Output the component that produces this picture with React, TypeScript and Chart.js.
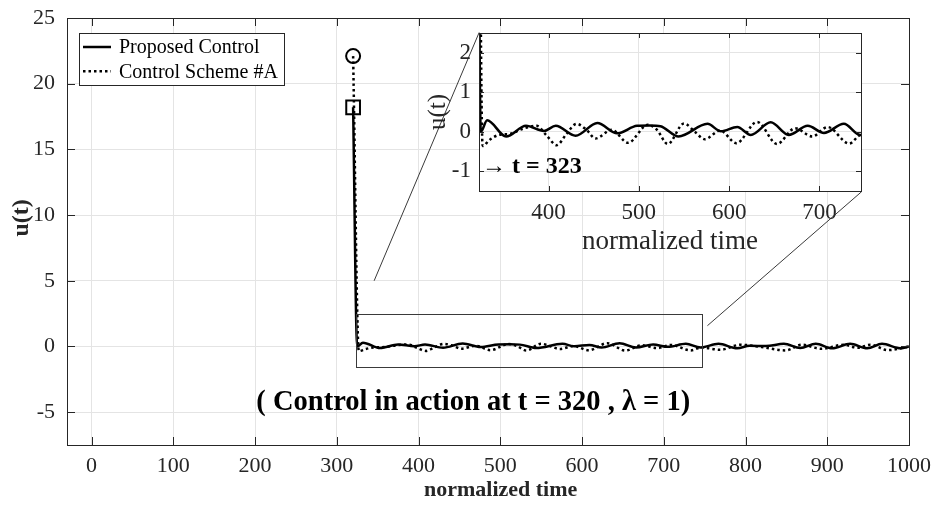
import React, { useEffect, useRef } from 'react';
import { Chart, registerables } from 'chart.js';

Chart.register(...registerables);

// ---------------- data ----------------
const proposedT = [320, 325, 332, 353, 375, 395, 408, 430, 454, 476, 498, 512, 524, 544, 576, 591, 609, 624, 646, 666, 687, 705, 727, 745, 767, 790, 805, 825, 847, 867, 886, 906, 928, 949, 967, 990, 1000];
const proposedU = [18.2, 0.0, 0.29, -0.12, 0.15, 0.02, 0.15, -0.1, 0.22, -0.04, 0.15, 0.16, 0.14, -0.12, 0.2, 0.01, 0.12, -0.08, 0.24, -0.08, 0.15, -0.03, 0.2, -0.08, 0.2, -0.14, 0.05, 0.03, 0.2, -0.12, 0.2, -0.14, 0.2, -0.14, 0.2, -0.14, 0.0];

const schemeT = [320, 327, 335, 345, 358, 372, 387, 398, 409, 420, 431, 442, 452, 470, 488, 510, 520, 532, 550, 562, 573, 590, 608, 631, 653, 673, 692, 709, 733, 746, 769, 794, 820, 849, 869, 893, 920, 937, 953, 974, 1000];
const schemeU = [22.1, -0.36, -0.2, -0.08, -0.05, 0.08, 0.15, -0.1, -0.34, -0.05, 0.2, 0.05, -0.17, 0.05, -0.28, 0.18, 0.05, -0.31, 0.21, 0.0, -0.19, 0.03, -0.29, 0.25, -0.31, 0.09, -0.12, 0.12, -0.3, -0.08, -0.25, 0.13, -0.05, -0.3, 0.13, -0.18, 0.13, -0.1, 0.13, -0.28, 0.0];

const seriesLabels = ['Proposed Control', 'Control Scheme #A'];

const xTicks = [0, 100, 200, 300, 400, 500, 600, 700, 800, 900, 1000];
const yTicks = [-5, 0, 5, 10, 15, 20, 25];
const xRange = [-30, 1000];
const yRange = [-7.5, 25];

const insetXTicks = [400, 500, 600, 700];
const insetYTicks = [-1, 0, 1, 2];
const insetXRange = [323, 746];
const insetYRange = [-1.5, 2.5];

const xTitle = 'normalized time';
const yTitle = 'u(t)';
const mainNote = '( Control in action at t = 320 , \u03BB = 1)';
const mainNoteAt = [467, -4.3];
const insetNoteArrow = '\u2192 ';
const insetNoteText = 't = 323';
const insetNoteAt = [326.3, -0.88];

// connector lines (main data coordinates)
const connectorA = [[345.7, 5.0], [474.2, 23.9]];
const connectorB = [[753.4, 1.58], [942, 11.78]];

// ---------------- styles ----------------
const SERIF = 'Liberation Serif';
const AXIS = '#262626';
const GRID = '#e4e4e4';
const DOT_DASH = [2.5, 3];

function makeDatasets(withMarkers: boolean) {
  return [
    {
      label: seriesLabels[0],
      data: proposedT.map((t, i) => ({ x: t, y: proposedU[i] })),
      borderColor: '#000',
      borderWidth: 2.5,
      borderDash: [],
      pointStyle: 'rect',
      pointRadius: (c: any) => (withMarkers && c.dataIndex === 0 ? 9.7 : 0),
      pointBorderColor: '#000',
      pointBorderWidth: 2,
      pointBackgroundColor: 'rgba(0,0,0,0)',
      cubicInterpolationMode: 'monotone',
      fill: false,
    },
    {
      label: seriesLabels[1],
      data: schemeT.map((t, i) => ({ x: t, y: schemeU[i] })),
      borderColor: '#000',
      borderWidth: 2.5,
      borderDash: DOT_DASH,
      pointStyle: 'circle',
      pointRadius: (c: any) => (withMarkers && c.dataIndex === 0 ? 7 : 0),
      pointBorderColor: '#000',
      pointBorderWidth: 2,
      pointBackgroundColor: 'rgba(0,0,0,0)',
      cubicInterpolationMode: 'monotone',
      fill: false,
    },
  ];
}

function drawBoxAndTicks(chart: any, tickLen: number) {
  const { ctx, chartArea: a, scales } = chart;
  const x = scales.x;
  const y = scales.y;
  ctx.save();
  ctx.strokeStyle = AXIS;
  ctx.lineWidth = 1;
  ctx.setLineDash([]);
  ctx.beginPath();
  x.ticks.forEach((t: any) => {
    const px = Math.round(x.getPixelForValue(t.value)) + 0.5;
    ctx.moveTo(px, a.bottom);
    ctx.lineTo(px, a.bottom - tickLen);
    ctx.moveTo(px, a.top);
    ctx.lineTo(px, a.top + tickLen);
  });
  y.ticks.forEach((t: any) => {
    const py = Math.round(y.getPixelForValue(t.value)) + 0.5;
    ctx.moveTo(a.left, py);
    ctx.lineTo(a.left + tickLen, py);
    ctx.moveTo(a.right, py);
    ctx.lineTo(a.right - tickLen, py);
  });
  ctx.stroke();
  ctx.strokeRect(Math.round(a.left) + 0.5, Math.round(a.top) + 0.5, Math.round(a.right - a.left), Math.round(a.bottom - a.top));
  ctx.restore();
}

const mainDecor = {
  id: 'mainDecor',
  afterDatasetsDraw(chart: any) {
    const { ctx, chartArea: a, scales } = chart;
    const x = scales.x;
    const y = scales.y;
    ctx.save();
    // zoom rectangle
    ctx.strokeStyle = '#3a3a3a';
    ctx.lineWidth = 1;
    const rx0 = x.getPixelForValue(insetXRange[0]);
    const rx1 = x.getPixelForValue(insetXRange[1]);
    const ry0 = y.getPixelForValue(insetYRange[1]);
    const ry1 = y.getPixelForValue(insetYRange[0]);
    ctx.strokeRect(Math.round(rx0) + 0.5, Math.round(ry0) + 0.5, Math.round(rx1 - rx0), Math.round(ry1 - ry0));
    // connectors
    ctx.beginPath();
    [connectorA, connectorB].forEach((seg) => {
      ctx.moveTo(x.getPixelForValue(seg[0][0]), y.getPixelForValue(seg[0][1]));
      ctx.lineTo(x.getPixelForValue(seg[1][0]), y.getPixelForValue(seg[1][1]));
    });
    ctx.stroke();
    ctx.restore();

    drawBoxAndTicks(chart, 8);

    // legend
    ctx.save();
    ctx.font = `20px "${SERIF}"`;
    const labels = chart.data.datasets.map((d: any) => d.label);
    const maxW = Math.max(...labels.map((l: string) => ctx.measureText(l).width));
    const bx = a.left + 12;
    const by = a.top + 15;
    const textX = bx + 40;
    const bw = textX - bx + maxW + 6;
    const bh = 52;
    ctx.fillStyle = '#fff';
    ctx.fillRect(bx, by, bw, bh);
    ctx.strokeStyle = AXIS;
    ctx.lineWidth = 1;
    ctx.strokeRect(Math.round(bx) + 0.5, Math.round(by) + 0.5, Math.round(bw), bh);
    chart.data.datasets.forEach((d: any, i: number) => {
      const ly = by + 14 + i * 24.3;
      ctx.strokeStyle = '#000';
      ctx.lineWidth = 2.5;
      ctx.setLineDash(d.borderDash || []);
      ctx.beginPath();
      ctx.moveTo(bx + 4, ly);
      ctx.lineTo(bx + 32, ly);
      ctx.stroke();
      ctx.setLineDash([]);
      ctx.fillStyle = '#000';
      ctx.textBaseline = 'middle';
      ctx.textAlign = 'left';
      ctx.fillText(d.label, textX, ly + 1);
    });
    // note
    ctx.font = `bold 28.5px "${SERIF}"`;
    ctx.fillStyle = '#000';
    ctx.textAlign = 'center';
    ctx.textBaseline = 'middle';
    ctx.fillText(mainNote, x.getPixelForValue(mainNoteAt[0]), y.getPixelForValue(mainNoteAt[1]));

    // axis titles
    ctx.fillStyle = AXIS;
    ctx.font = `bold 22px "${SERIF}"`;
    ctx.textAlign = 'center';
    ctx.textBaseline = 'middle';
    ctx.fillText(xTitle, a.left + (a.right - a.left) * 0.515, a.bottom + 45);
    ctx.save();
    ctx.font = `bold 24px "${SERIF}"`;
    ctx.translate(a.left - 45, a.top + (a.bottom - a.top) * 0.468);
    ctx.rotate(-Math.PI / 2);
    ctx.fillText(yTitle, 0, 0);
    ctx.restore();
    ctx.restore();
  },
};

const insetDecor = {
  id: 'insetDecor',
  beforeDraw(chart: any) {
    const { ctx, chartArea: a } = chart;
    ctx.save();
    ctx.fillStyle = '#fff';
    ctx.fillRect(a.left, a.top, a.right - a.left, a.bottom - a.top);
    ctx.restore();
  },
  afterDatasetsDraw(chart: any) {
    const { ctx, scales } = chart;
    drawBoxAndTicks(chart, 5);
    ctx.save();
    const px = scales.x.getPixelForValue(insetNoteAt[0]);
    const py = scales.y.getPixelForValue(insetNoteAt[1]);
    ctx.fillStyle = '#000';
    ctx.textBaseline = 'middle';
    ctx.textAlign = 'left';
    ctx.font = `24px "${SERIF}"`;
    ctx.fillText(insetNoteArrow, px, py);
    const w = ctx.measureText(insetNoteArrow).width;
    ctx.font = `bold 24px "${SERIF}"`;
    ctx.fillText(insetNoteText, px + w, py);
    ctx.restore();
  },
};

function axisCommon(tickList: number[], range: number[], fontSize: number, pad: number) {
  return {
    type: 'linear',
    min: range[0],
    max: range[1],
    afterBuildTicks: (s: any) => {
      s.ticks = tickList.map((v) => ({ value: v }));
    },
    ticks: {
      autoSkip: false,
      maxRotation: 0,
      minRotation: 0,
      padding: pad,
      color: AXIS,
      font: { family: SERIF, size: fontSize },
      callback: (v: any) => String(v),
    },
    grid: { color: GRID, lineWidth: 1, drawTicks: false },
    border: { display: false },
  };
}

export default function App() {
  const mainRef = useRef<HTMLCanvasElement>(null);
  const insetRef = useRef<HTMLCanvasElement>(null);

  useEffect(() => {
    const main = new Chart(mainRef.current as HTMLCanvasElement, {
      type: 'line',
      data: { datasets: makeDatasets(true) as any },
      options: {
        responsive: false,
        animation: false,
        events: [],
        layout: { padding: { left: 0, right: 26, top: 18, bottom: 0 } },
        plugins: { legend: { display: false }, tooltip: { enabled: false } },
        scales: {
          x: {
            ...axisCommon(xTicks, xRange, 22, 8),
            afterFit: (s: any) => {
              s.height = 62;
              s.paddingLeft = 0;
              s.paddingRight = 0;
            },
          } as any,
          y: {
            ...axisCommon(yTicks, yRange, 22, 12),
            afterFit: (s: any) => {
              s.width = 67;
              s.paddingTop = 0;
              s.paddingBottom = 0;
            },
          } as any,
        },
      },
      plugins: [mainDecor],
    });

    const inset = new Chart(insetRef.current as HTMLCanvasElement, {
      type: 'line',
      data: { datasets: makeDatasets(false) as any },
      options: {
        responsive: false,
        animation: false,
        events: [],
        layout: { padding: { left: 0, right: 19, top: 5, bottom: 0 } },
        plugins: { legend: { display: false }, tooltip: { enabled: false } },
        scales: {
          x: {
            ...axisCommon(insetXTicks, insetXRange, 23, 8),
            afterFit: (s: any) => {
              s.height = 77;
              s.paddingLeft = 0;
              s.paddingRight = 0;
            },
            title: {
              display: true,
              text: xTitle,
              color: AXIS,
              font: { family: SERIF, size: 27 },
              padding: { top: 0, bottom: 10 },
            },
          } as any,
          y: {
            ...axisCommon(insetYTicks, insetYRange, 23, 8),
            afterFit: (s: any) => {
              s.width = 59;
              s.paddingTop = 0;
              s.paddingBottom = 0;
            },
            title: {
              display: true,
              text: yTitle,
              color: AXIS,
              font: { family: SERIF, size: 25 },
              padding: { top: 3, bottom: 0 },
            },
          } as any,
        },
      },
      plugins: [insetDecor],
    });

    return () => {
      main.destroy();
      inset.destroy();
    };
  }, []);

  return (
    <div style={{ position: 'absolute', left: 0, top: 0, width: 935, height: 507, background: '#fff' }}>
      <canvas ref={mainRef} width={935} height={507} style={{ position: 'absolute', left: 0, top: 0 }} />
      <canvas ref={insetRef} width={460} height={240} style={{ position: 'absolute', left: 420, top: 28 }} />
    </div>
  );
}
